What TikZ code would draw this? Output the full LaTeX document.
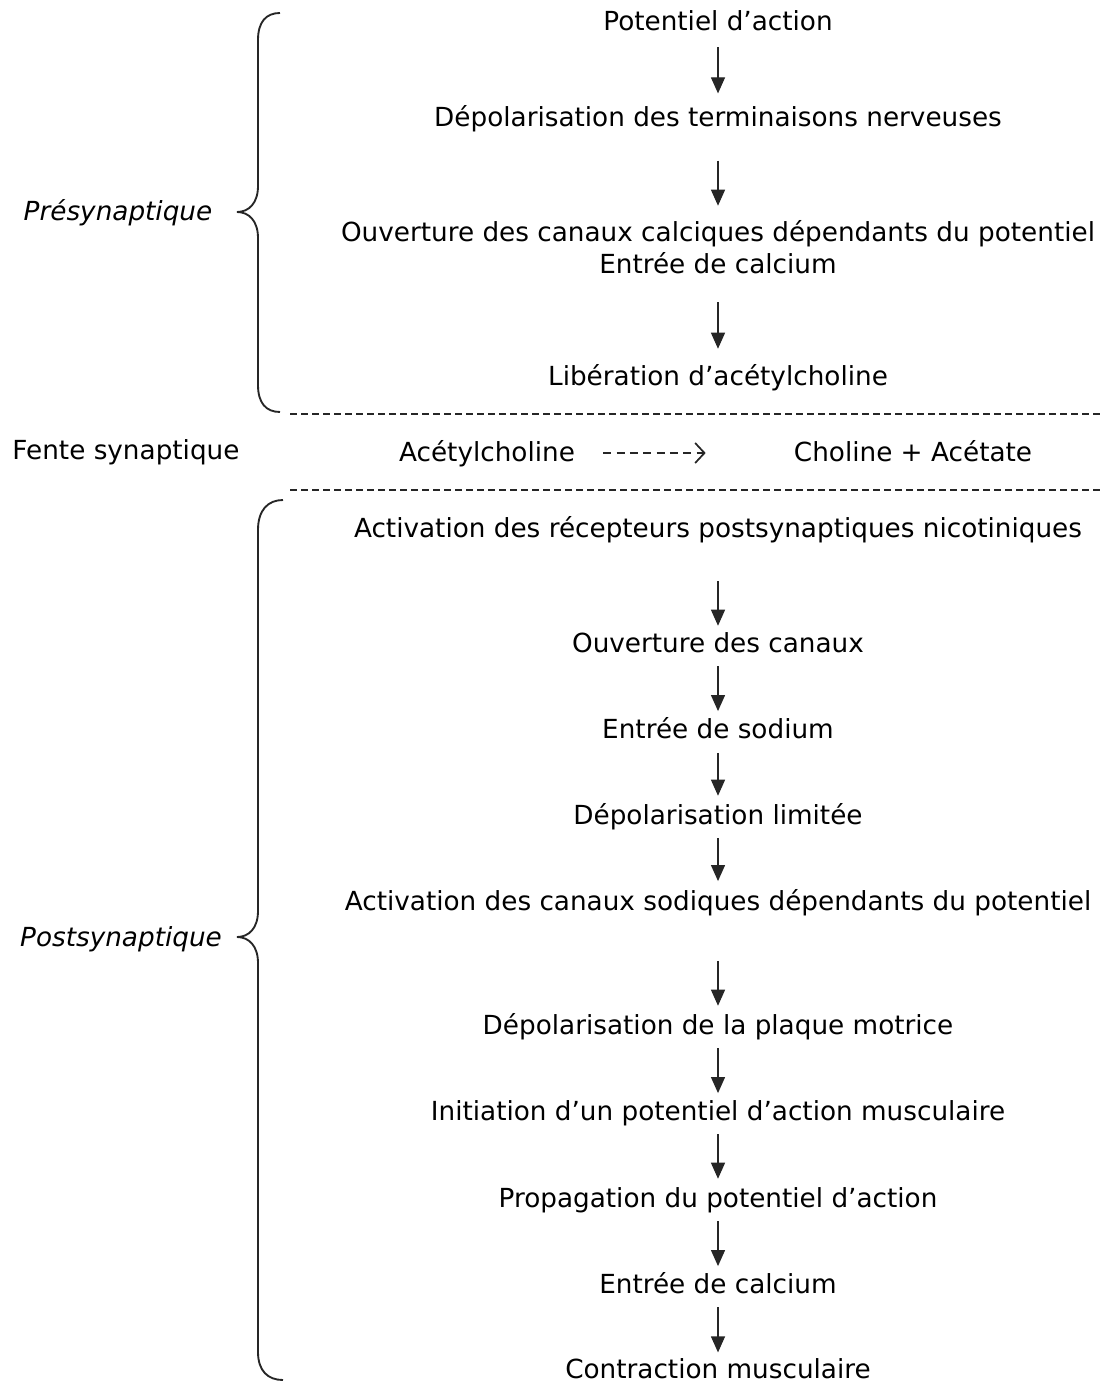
\documentclass[tikz,border=0pt]{standalone}
\usepackage{fontspec}
\setmainfont{DejaVu Sans}
\usetikzlibrary{arrows.meta}
\tikzset{
  txt/.style={inner sep=0pt, text height=13pt, text depth=1pt, font=\fontsize{19.7}{24}\selectfont},
  side/.style={txt, font=\fontsize{19.7}{24}\selectfont\itshape},
  arr/.style={draw=black!85, line width=0.9pt, -{Triangle[length=12pt,width=10.5pt]}},
  sep/.style={draw=black!85, line width=1.1pt, dash pattern=on 5.25pt off 3pt},
  brace/.style={draw=black!85, line width=1.4pt},
  darr/.style={draw=black!85, line width=1.3pt, dash pattern=on 6pt off 4pt, -{Straight Barb[length=7pt,width=15pt,line width=1.3pt]}}
}
\begin{document}
\begin{tikzpicture}[x=0.75pt,y=-0.75pt]
\useasboundingbox (0,0) rectangle (1105,1383);
% presynaptic
\node[txt] (n1) at (718,23) {Potentiel d’action};
\node[txt] (n2) at (718,119) {Dépolarisation des terminaisons nerveuses};
\node[txt] (n3) at (718,234) {Ouverture des canaux calciques dépendants du potentiel};
\node[txt] (n3b) at (718,266) {Entrée de calcium};
\node[txt] (n4) at (718,377) {Libération d’acétylcholine};
% cleft
\node[txt] (fente) at (126,451) {Fente synaptique};
\node[txt] (ach) at (487,453) {Acétylcholine};
\node[txt] (cho) at (913,453) {Choline + Acétate};
% postsynaptic
\node[txt] (p1) at (718,529) {Activation des récepteurs postsynaptiques nicotiniques};
\node[txt] (p2) at (718,644) {Ouverture des canaux};
\node[txt] (p3) at (718,730) {Entrée de sodium};
\node[txt] (p4) at (718,816) {Dépolarisation limitée};
\node[txt] (p5) at (718,902) {Activation des canaux sodiques dépendants du potentiel};
\node[txt] (p6) at (718,1026) {Dépolarisation de la plaque motrice};
\node[txt] (p7) at (718,1112) {Initiation d’un potentiel d’action musculaire};
\node[txt] (p8) at (718,1199) {Propagation du potentiel d’action};
\node[txt] (p9) at (718,1285) {Entrée de calcium};
\node[txt] (p10) at (718,1370) {Contraction musculaire};
% side labels
\node[side] (pre) at (118,213) {Présynaptique};
\node[side] (post) at (121,938) {Postsynaptique};
% arrows
\draw[arr, shorten <=11pt, shorten >=12pt] (n1) -- (n2);
\draw[arr, shorten <=24pt, shorten >=14pt] (n2) -- (n3);
\draw[arr, shorten <=20pt, shorten >=14pt] (n3b) -- (n4);
\draw[arr, shorten <=32pt, shorten >=6.5pt] (p1) -- (p2);
\draw[arr, shorten <=9.5pt, shorten >=7pt] (p2) -- (p3);
\draw[arr, shorten <=10pt, shorten >=8pt] (p3) -- (p4);
\draw[arr, shorten <=9.5pt, shorten >=8.5pt] (p4) -- (p5);
\draw[arr, shorten <=37pt, shorten >=8pt] (p5) -- (p6);
\draw[arr, shorten <=9.5pt, shorten >=7pt] (p6) -- (p7);
\draw[arr, shorten <=9.5pt, shorten >=8pt] (p7) -- (p8);
\draw[arr, shorten <=9.5pt, shorten >=7pt] (p8) -- (p9);
\draw[arr, shorten <=9.5pt, shorten >=6pt] (p9) -- (p10);
\draw[darr, shorten <=21pt, shorten >=66pt] (ach) -- (cho);
% separators
\draw[sep] (290,414) -- (1100,414);
\draw[sep] (290,490) -- (1100,490);
% braces
\draw[brace] (280,13) .. controls (266,13) and (258,22) .. (258,40) -- (258,186)
  .. controls (258,203) and (249,212) .. (237,212)
  .. controls (249,212) and (258,221) .. (258,238) -- (258,385)
  .. controls (258,403) and (266,412) .. (280,412);
\draw[brace] (283,500) .. controls (268,500) and (258,510) .. (258,530) -- (258,911)
  .. controls (258,928) and (249,937) .. (237,937)
  .. controls (249,937) and (258,946) .. (258,963) -- (258,1352)
  .. controls (258,1371) and (268,1380) .. (283,1380);
\end{tikzpicture}
\end{document}
